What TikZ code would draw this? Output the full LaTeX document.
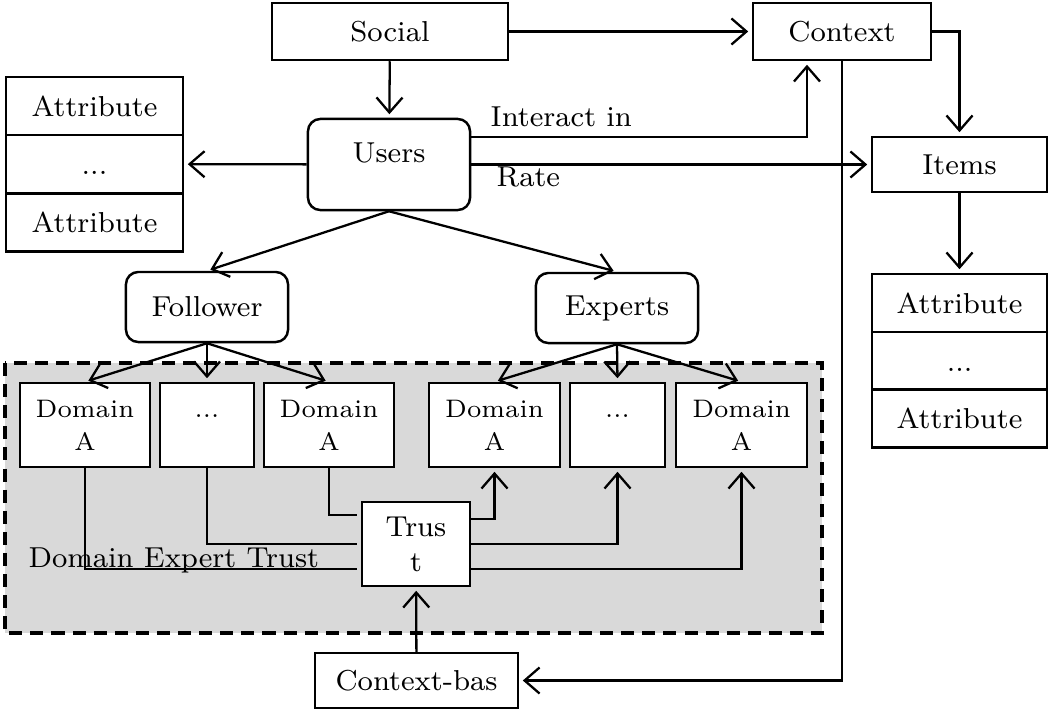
\documentclass[tikz,border=0pt]{standalone}
\usepackage{fontspec}
\usepackage{tikz}
\usetikzlibrary{arrows.meta}
\definecolor{regionGray}{HTML}{D9D9D9}

\begin{document}
\begin{tikzpicture}[x=0.01cm, y=-0.01cm,
  every node/.style={font=\fontsize{8.2}{10}\selectfont},
  plainbox/.style={draw,line width=0.7pt,fill=white,inner sep=1pt,align=center},
  roundbox/.style={plainbox,rounded corners=3.5pt},
  domainbox/.style={plainbox,minimum height=0.84cm,font=\fontsize{7.2}{9.4}\selectfont},
  conn/.style={line width=0.65pt,shorten >=1pt},
  regionframe/.style={fill=regionGray,line width=1pt,dash pattern=on 3.7pt off 2.3pt},
  >={Straight Barb[length=1.5mm,width=2.6mm]}]
\useasboundingbox (0,0) rectangle (1049,709);
\draw[regionframe] (5,363) rectangle (822,633);
% top row
\node[plainbox,minimum width=2.36cm,minimum height=0.57cm] (social) at (390,31.5) {Social};
\node[plainbox,minimum width=1.78cm,minimum height=0.57cm] (context) at (842,31.5) {Context};
\node[roundbox,minimum width=1.62cm,minimum height=0.91cm,text height=0.2cm,text depth=0.25cm] (users) at (389,164.5) {Users};
\node[plainbox,minimum width=1.75cm,minimum height=0.55cm] (items) at (959.5,164.5) {Items};
% attribute stacks
\node[plainbox,minimum width=1.77cm,minimum height=0.58cm] (uattrA) at (94.5,106) {Attribute};
\node[plainbox,minimum width=1.77cm,minimum height=0.58cm] (uattrB) at (94.5,164) {\vphantom{A}...};
\node[plainbox,minimum width=1.77cm,minimum height=0.58cm] (uattrC) at (94.5,222.5) {Attribute};
\node[plainbox,minimum width=1.75cm,minimum height=0.58cm] (iattrA) at (959.5,303) {Attribute};
\node[plainbox,minimum width=1.75cm,minimum height=0.58cm] (iattrB) at (959.5,361) {\vphantom{A}...};
\node[plainbox,minimum width=1.75cm,minimum height=0.58cm] (iattrC) at (959.5,418.5) {Attribute};
% user groups
\node[roundbox,minimum width=1.62cm,minimum height=0.70cm] (follower) at (207,307) {Follower};
\node[roundbox,minimum width=1.62cm,minimum height=0.70cm] (experts) at (617,308) {Experts};
% domains
\node[domainbox,minimum width=1.30cm] (d1) at (85,425) {Domain\\A};
\node[domainbox,minimum width=0.94cm] (d2) at (207,425) {\vphantom{D}...\\\phantom{A}};
\node[domainbox,minimum width=1.30cm] (d3) at (329,425) {Domain\\A};
\node[domainbox,minimum width=1.31cm] (d4) at (494.5,425) {Domain\\A};
\node[domainbox,minimum width=0.95cm] (d5) at (617.5,425) {\vphantom{D}...\\\phantom{A}};
\node[domainbox,minimum width=1.31cm] (d6) at (741.5,425) {Domain\\A};
\node[plainbox,minimum width=1.08cm,minimum height=0.84cm] (trust) at (416,544) {Trus\\t};
\node[plainbox,minimum width=2.03cm,minimum height=0.55cm] (ctxbas) at (416.5,680.5) {Context-bas};
% labels
\node[anchor=west,inner sep=0pt] (interactlbl) at (490,117) {Interact in};
\node[anchor=west,inner sep=0pt] (ratelbl) at (496,177) {Rate};
\node[anchor=west,inner sep=0pt] (detlbl) at (28,560) {Domain Expert Trust};
% connectors
\foreach \a/\b in {social/context, social/users, users/uattrB, users/items, items/iattrA, ctxbas/trust}
  \draw[conn,->] (\a)--(\b);
\foreach \a/\b in {users/follower, users/experts, follower/d1, follower/d2, follower/d3, experts/d4, experts/d5, experts/d6}
  \draw[conn,->] (\a.south)--(\b.north);
\draw[conn,->] ([yshift=0.275cm]users.east) -| ([xshift=-0.35cm]context.south);
\draw[conn,->] (context.east) -| (items.north);
\draw[conn,->] (context.south) |- (ctxbas.east);
\draw[conn] (d1.south) |- ([yshift=-0.25cm]trust.west);
\draw[conn] (d2.south) |- (trust.west);
\draw[conn] (d3.south) |- ([yshift=0.29cm]trust.west);
\draw[conn,->] ([yshift=0.25cm]trust.east) -| (d4.south);
\draw[conn,->] (trust.east) -| (d5.south);
\draw[conn,->] ([yshift=-0.25cm]trust.east) -| (d6.south);
\end{tikzpicture}
\end{document}
